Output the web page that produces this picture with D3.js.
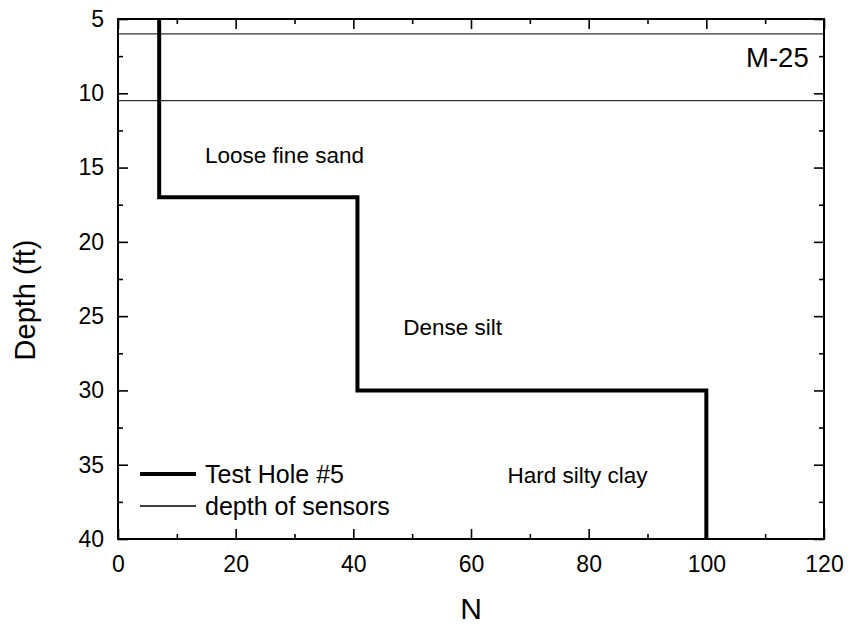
<!DOCTYPE html>
<html>
<head>
<meta charset="utf-8">
<script src="https://cdn.jsdelivr.net/npm/d3@7"></script>
<style>
  body { margin: 0; background: #fff; }
  svg { display: block; font-family: Arial, "Liberation Sans", Helvetica, sans-serif; }
</style>
</head>
<body>
<svg id="chart" width="849" height="626"></svg>
<script>
// ---- data ----
const layerTop    = [5, 17, 30];
const layerBottom = [17, 30, 40];
const layerN      = [7, 40.7, 100];
const sensorDepths = [6, 10.5];
const xTicks = [0, 20, 40, 60, 80, 100, 120];
const xMinorTicks = [10, 30, 50, 70, 90, 110];
const yTicks = [5, 10, 15, 20, 25, 30, 35, 40];
const yMinorTicks = [7.5, 12.5, 17.5, 22.5, 27.5, 32.5, 37.5];
const layerLabels = ["Loose fine sand", "Dense silt", "Hard silty clay"];
const layerLabelN = [14.8, 48.5, 66.2];
const layerLabelDepth = [14.7, 26.3, 36.2];
const siteLabel = "M-25";
const legendLabels = ["Test Hole #5", "depth of sensors"];

// ---- layout ----
const svg = d3.select("#chart");
const pL = 118, pR = 824, pT = 19, pB = 539;
const x = d3.scaleLinear().domain([0, 120]).range([pL, pR]);
const y = d3.scaleLinear().domain([5, 40]).range([pT, pB]);

// step path points
const pts = [];
layerN.forEach((n, i) => {
  pts.push([n, layerTop[i]]);
  pts.push([n, layerBottom[i]]);
});

// sensor lines
svg.selectAll("line.sensor").data(sensorDepths).enter().append("line")
  .attr("class", "sensor")
  .attr("x1", x(0)).attr("x2", x(120))
  .attr("y1", d => y(d)).attr("y2", d => y(d))
  .attr("stroke", "#333").attr("stroke-width", 1.3);

// step line
const line = d3.line().x(d => x(d[0])).y(d => y(d[1]));
svg.append("path").datum(pts)
  .attr("d", line)
  .attr("fill", "none").attr("stroke", "#000")
  .attr("stroke-width", 4).attr("stroke-linejoin", "miter");

// axes
const tickFont = "23px";
function styleAxis(g) {
  g.select(".domain").remove();
  g.selectAll(".tick line").attr("stroke", "#000").attr("stroke-width", 1.6);
  g.selectAll(".tick text").attr("fill", "#000").style("font-size", tickFont)
   .style("font-family", "Arial, 'Liberation Sans', sans-serif");
}
// bottom
svg.append("g").attr("transform", `translate(0,${pB})`)
  .call(d3.axisBottom(x).tickValues(xTicks).tickSizeInner(-10).tickSizeOuter(0).tickPadding(17).tickFormat(d3.format("d")))
  .call(styleAxis);
svg.append("g").attr("transform", `translate(0,${pB})`)
  .call(d3.axisBottom(x).tickValues(xMinorTicks).tickSizeInner(-5).tickSizeOuter(0).tickFormat(""))
  .call(styleAxis);
// top
svg.append("g").attr("transform", `translate(0,${pT})`)
  .call(d3.axisTop(x).tickValues(xTicks).tickSizeInner(-10).tickSizeOuter(0).tickFormat(""))
  .call(styleAxis);
svg.append("g").attr("transform", `translate(0,${pT})`)
  .call(d3.axisTop(x).tickValues(xMinorTicks).tickSizeInner(-5).tickSizeOuter(0).tickFormat(""))
  .call(styleAxis);
// left
svg.append("g").attr("transform", `translate(${pL},0)`)
  .call(d3.axisLeft(y).tickValues(yTicks).tickSizeInner(-10).tickSizeOuter(0).tickPadding(14).tickFormat(d3.format("d")))
  .call(styleAxis);
svg.append("g").attr("transform", `translate(${pL},0)`)
  .call(d3.axisLeft(y).tickValues(yMinorTicks).tickSizeInner(-5).tickSizeOuter(0).tickFormat(""))
  .call(styleAxis);
// right
svg.append("g").attr("transform", `translate(${pR},0)`)
  .call(d3.axisRight(y).tickValues(yTicks).tickSizeInner(-10).tickSizeOuter(0).tickFormat(""))
  .call(styleAxis);
svg.append("g").attr("transform", `translate(${pR},0)`)
  .call(d3.axisRight(y).tickValues(yMinorTicks).tickSizeInner(-5).tickSizeOuter(0).tickFormat(""))
  .call(styleAxis);

// frame
svg.append("rect")
  .attr("x", pL).attr("y", pT).attr("width", pR - pL).attr("height", pB - pT)
  .attr("fill", "none").attr("stroke", "#000").attr("stroke-width", 2);

// axis titles
svg.append("text").attr("x", (pL + pR) / 2).attr("y", 619)
  .attr("text-anchor", "middle").style("font-size", "30px").text("N");
svg.append("text").attr("transform", `translate(35,${300}) rotate(-90)`)
  .attr("text-anchor", "middle").style("font-size", "29px").text("Depth (ft)");

// layer labels
svg.selectAll("text.layer").data(layerLabels).enter().append("text")
  .attr("class", "layer")
  .attr("x", (d, i) => x(layerLabelN[i]))
  .attr("y", (d, i) => y(layerLabelDepth[i]))
  .style("font-size", "22.5px").text(d => d);

// site label
svg.append("text").attr("x", x(117.4)).attr("y", y(8.23))
  .attr("text-anchor", "end").style("font-size", "27.5px").text(siteLabel);

// legend
const legY = [474, 506];
const legW = [4, 1.3];
legendLabels.forEach((lab, i) => {
  svg.append("line").attr("x1", 140).attr("x2", 196)
    .attr("y1", legY[i]).attr("y2", legY[i])
    .attr("stroke", "#000").attr("stroke-width", legW[i]);
  svg.append("text").attr("x", 205).attr("y", legY[i] + 9)
    .style("font-size", "25px").text(lab);
});
</script>
</body>
</html>
